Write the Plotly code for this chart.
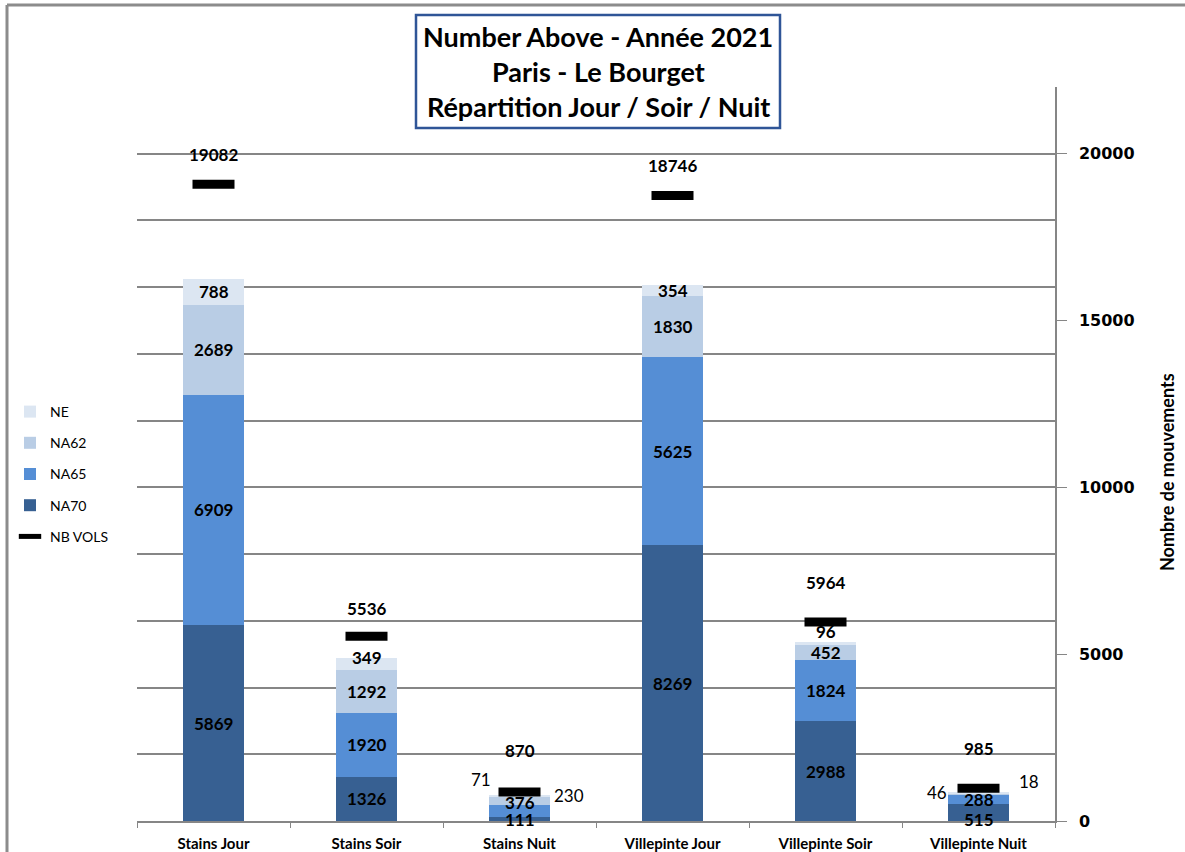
import plotly.graph_objects as go

categories = ["Stains Jour", "Stains Soir", "Stains Nuit",
              "Villepinte Jour", "Villepinte Soir", "Villepinte Nuit"]
na70 = [5869, 1326, 111, 8269, 2988, 515]
na65 = [6909, 1920, 376, 5625, 1824, 288]
na62 = [2689, 1292, 230, 1830, 452, 18]
ne = [788, 349, 71, 354, 96, 46]
nb_vols = [19082, 5536, 870, 18746, 5964, 985]

title_lines = ["Number Above - Année 2021", "Paris - Le Bourget",
               "Répartition Jour / Soir / Nuit"]
y_title = "Nombre de mouvements"

# plot-area pixel geometry (for paper-coordinate conversion)
W, H = 1185, 852
L, R, T, B = 137, 1055, 87, 821
def px(x):
    return (x - L) / (R - L)
def py(y):
    return (B - y) / (B - T)

colors = {"NA70": "#376092", "NA65": "#558ED5", "NA62": "#B9CDE5", "NE": "#DCE6F2"}
series = [("NA70", na70), ("NA65", na65), ("NA62", na62), ("NE", ne)]
ranks = {"NE": 1, "NA62": 2, "NA65": 3, "NA70": 4}

FONT = "Lato"
fig = go.Figure()
for name, vals in series:
    fig.add_trace(go.Bar(
        x=categories, y=vals, name=name,
        marker=dict(color=colors[name], line=dict(width=0)),
        legendrank=ranks[name], legendgroup=name,
        hoverinfo="x+y+name",
    ))

fig.add_trace(go.Scatter(
    x=categories, y=nb_vols, name="NB VOLS", mode="markers",
    marker=dict(symbol="line-ew", size=30, line=dict(width=9, color="black")),
    legendrank=5, legendgroup="NB VOLS",
))

annotations = []
# segment labels
label_shift = {
    ("Stains Nuit", "NA65"): (0, 9),
    ("Stains Nuit", "NE"): (-39, 16),
    ("Stains Nuit", "NA62"): (49, 5),
    ("Villepinte Nuit", "NE"): (-42, 0),
    ("Villepinte Nuit", "NA62"): (50, 12),
    ("Villepinte Nuit", "NA70"): (0, -7),
    ("Villepinte Soir", "NE"): (0, 12),
    ("Stains Soir", "NE"): (0, 6),
}
outside = {("Stains Nuit", "NE"), ("Stains Nuit", "NA62"),
           ("Villepinte Nuit", "NE"), ("Villepinte Nuit", "NA62")}
for i, cat in enumerate(categories):
    base = 0
    for name, vals in series:
        v = vals[i]
        mid = base + v / 2
        base += v
        dx, dy = label_shift.get((cat, name), (0, 0))
        bold = (cat, name) not in outside
        annotations.append(dict(
            x=cat, y=mid, xref="x", yref="y", text=f"<b>{v}</b>" if bold else str(v),
            showarrow=False, xshift=dx, yshift=dy,
            font=dict(family=FONT, size=17, color="black"),
        ))

vol_shift = [30, 28, 41, 30, 40, 40]
for i, cat in enumerate(categories):
    annotations.append(dict(
        x=cat, y=nb_vols[i], xref="x", yref="y", text=f"<b>{nb_vols[i]}</b>",
        showarrow=False, yshift=vol_shift[i],
        font=dict(family=FONT, size=17, color="black"),
    ))

# title lines
for text, ypix in zip(title_lines, [37, 72, 107]):
    annotations.append(dict(
        x=px(598), y=py(ypix), xref="paper", yref="paper", text=f"<b>{text}</b>",
        showarrow=False, xanchor="center", yanchor="middle",
        font=dict(family=FONT, size=27, color="black"),
    ))

# axis title
annotations.append(dict(
    x=px(1167), y=py(472), xref="paper", yref="paper", text=f"<b>{y_title}</b>",
    showarrow=False, textangle=-90, xanchor="center", yanchor="middle",
    font=dict(family=FONT, size=18, color="black"),
))

shapes = [
    dict(type="rect", xref="paper", yref="paper", x0=px(416), x1=px(780),
         y0=py(128), y1=py(15), line=dict(color="#2F5597", width=2.5),
         fillcolor="white", layer="above"),
    dict(type="line", xref="paper", yref="paper", x0=px(7), x1=px(7),
         y0=py(5), y1=py(870), line=dict(color="#8C8C8C", width=3)),
    dict(type="line", xref="paper", yref="paper", x0=px(7), x1=px(1200),
         y0=py(5), y1=py(5), line=dict(color="#8C8C8C", width=3)),
]

fig.update_layout(
    width=W, height=H,
    margin=dict(l=L, r=W - R, t=T, b=H - B, autoexpand=False),
    paper_bgcolor="white", plot_bgcolor="white",
    barmode="stack", bargap=0.6,
    showlegend=True,
    legend=dict(x=px(10), y=py(396), xanchor="left", yanchor="top",
                traceorder="grouped", tracegroupgap=10,
                font=dict(family=FONT, size=14, color="black"),
                bgcolor="rgba(0,0,0,0)"),
    annotations=annotations,
    shapes=shapes,
    xaxis=dict(showline=True, linecolor="#868686", linewidth=1.5,
               ticks="outside", tickson="boundaries", ticklen=5,
               tickcolor="#868686", ticklabelstandoff=8,
               tickfont=dict(family=FONT, size=15, color="black", weight="bold"),
               showgrid=False, fixedrange=True),
    yaxis=dict(range=[0, 22000], dtick=2000, showgrid=True,
               gridcolor="#868686", gridwidth=1.5, showticklabels=False,
               zeroline=False, ticks="", fixedrange=True),
    yaxis2=dict(range=[0, 22000], overlaying="y", side="right",
                tickvals=[0, 5000, 10000, 15000, 20000], tickformat="d",
                showgrid=False, zeroline=False, showline=True,
                linecolor="#868686", linewidth=1.5, ticks="outside",
                ticklen=10, tickcolor="#868686", ticklabelstandoff=9,
                tickfont=dict(family="DejaVu Sans", size=16, color="black",
                              weight="bold"),
                fixedrange=True),
)
# dummy trace to display the right axis
fig.add_trace(go.Scatter(x=[categories[0]], y=[0], yaxis="y2", mode="markers",
                         marker=dict(opacity=0), showlegend=False, hoverinfo="skip"))

fig.write_html("out.html", config={"displayModeBar": False},
               post_script="document.body.style.margin='0';")
